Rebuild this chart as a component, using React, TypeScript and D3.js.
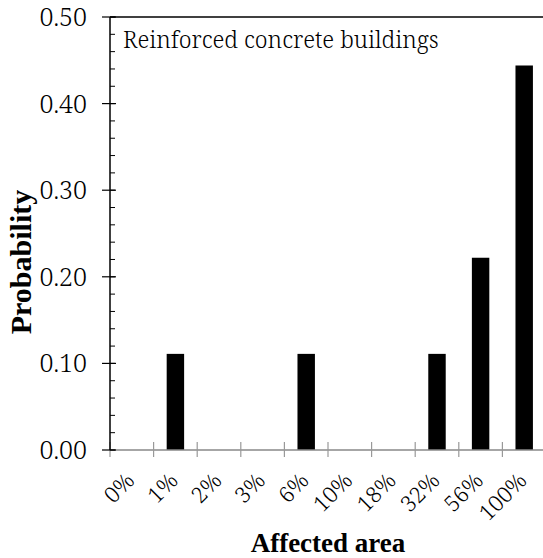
import React from "react";
import * as d3 from "d3";

const categories = ["0%", "1%", "2%", "3%", "6%", "10%", "18%", "32%", "56%", "100%"];
const probabilities = [0, 0.111, 0, 0, 0.111, 0, 0, 0.111, 0.222, 0.444];
const yMajorTicks = [0, 0.1, 0.2, 0.3, 0.4, 0.5];
const yMinorTicks = d3.range(0, 0.5001, 0.02);
const chartTitle = "Reinforced concrete buildings";
const xTitle = "Affected area";
const yTitle = "Probability";

const W = 543;
const H = 558;
const left = 110;
const top = 17;
const bottom = 450;
const right = 546;
const regular = "'Noto Serif', 'DejaVu Serif', serif";
const bold = "'Liberation Serif', 'Times New Roman', serif";

export default function App() {
  const x = d3.scaleBand<string>().domain(categories).range([left, right]).paddingInner(0).paddingOuter(0);
  const y = d3.scaleLinear().domain([0, 0.5]).range([bottom, top]);
  const bw = x.bandwidth() * 0.4;
  const boundaries = d3.range(categories.length + 1).map((i) => left + i * x.step());
  const reg = { fontFamily: regular, fontWeight: 300 };
  const bld = { fontFamily: bold, fontWeight: "bold" as const };

  return (
    <div style={{ position: "fixed", left: 0, top: 0 }}>
      <svg width={W} height={H} style={{ display: "block", background: "#fff" }}>
        {categories.map((c, i) =>
          probabilities[i] > 0 ? (
            <rect
              key={c}
              x={(x(c) as number) + x.bandwidth() / 2 - bw / 2}
              y={y(probabilities[i])}
              width={bw}
              height={y(0) - y(probabilities[i])}
              fill="#000"
            />
          ) : null
        )}
        <line x1={left} x2={W} y1={top} y2={top} stroke="#000" strokeWidth={1.3} />
        <line x1={left} x2={W} y1={bottom} y2={bottom} stroke="#888" strokeWidth={1.5} />
        {boundaries.map((bx, i) => (
          <line key={"xt" + i} x1={bx} x2={bx} y1={bottom - 8} y2={bottom + 7} stroke="#999" strokeWidth={1.2} />
        ))}
        <line x1={left} x2={left} y1={top} y2={bottom} stroke="#000" strokeWidth={1.5} />
        {yMinorTicks.map((v, i) => (
          <line key={"ym" + i} x1={left} x2={left + 5} y1={y(v)} y2={y(v)} stroke="#000" strokeWidth={1} />
        ))}
        {yMajorTicks.map((v, i) => (
          <g key={"yM" + i}>
            <line x1={left - 8} x2={left + 6} y1={y(v)} y2={y(v)} stroke="#000" strokeWidth={1.2} />
            <text x={87} y={y(v) + 9} textAnchor="end" fontSize={25} fill="#000" style={reg}>
              {v.toFixed(2)}
            </text>
          </g>
        ))}
        {categories.map((c) => {
          const cx = (x(c) as number) + x.bandwidth() / 2 + 4;
          const cy = bottom + 32;
          return (
            <text key={"xl" + c} transform={`translate(${cx},${cy}) rotate(-45)`} textAnchor="end" fontSize={22} fill="#000" style={reg}>
              {c}
            </text>
          );
        })}
        <text x={123} y={48} fontSize={23} fill="#000" style={reg}>
          {chartTitle}
        </text>
        <text x={328} y={552} textAnchor="middle" fontSize={27} fill="#000" style={bld}>
          {xTitle}
        </text>
        <text transform={`translate(31,262) rotate(-90)`} textAnchor="middle" fontSize={30} fill="#000" style={bld}>
          {yTitle}
        </text>
      </svg>
    </div>
  );
}
